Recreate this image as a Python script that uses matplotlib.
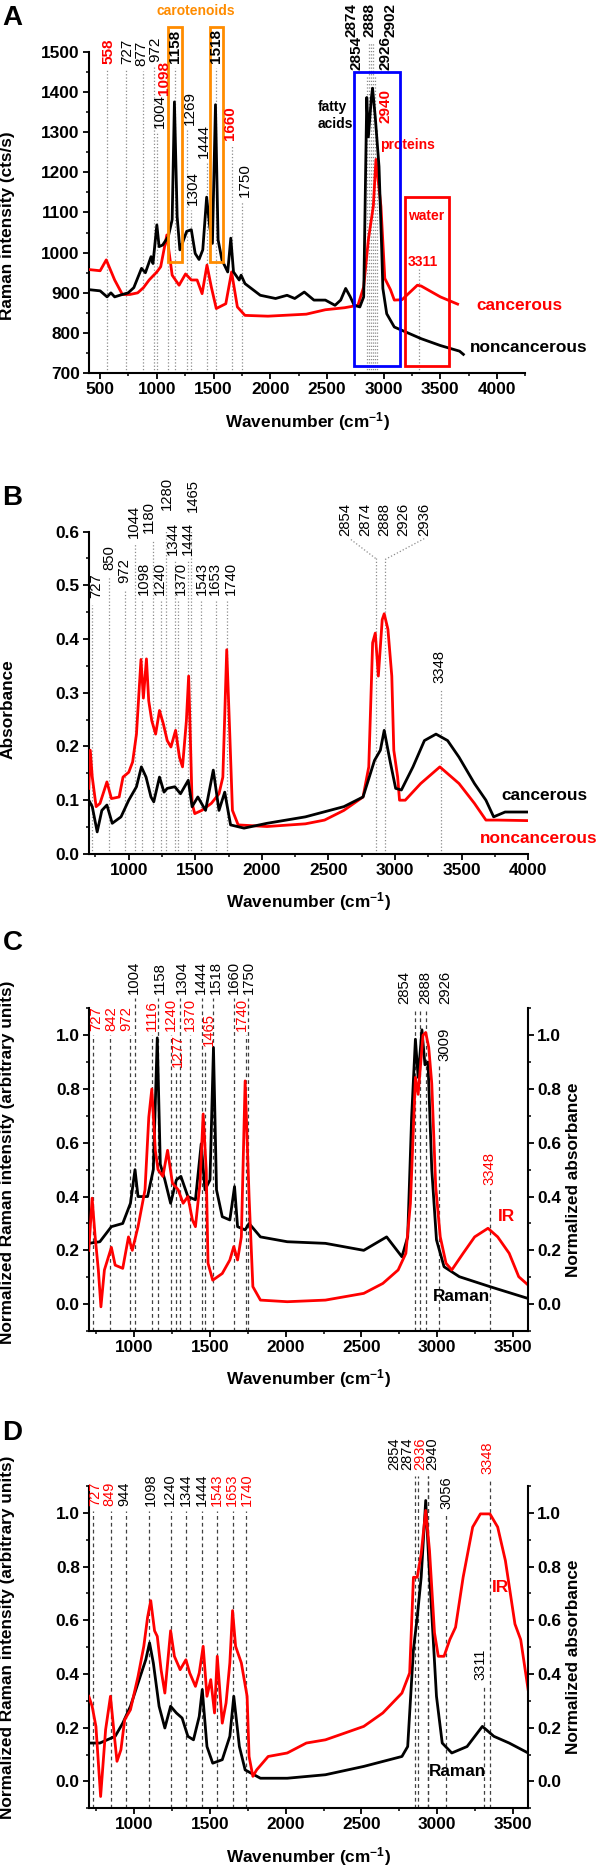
import matplotlib
matplotlib.use("Agg")
import matplotlib.pyplot as plt
from matplotlib.ticker import MultipleLocator
from matplotlib.patches import Rectangle

plt.rcParams['font.family'] = ['Liberation Sans', 'DejaVu Sans']
plt.rcParams['font.weight'] = 'bold'
plt.rcParams['axes.labelweight'] = 'bold'
plt.rcParams['mathtext.fontset'] = 'custom'
plt.rcParams['mathtext.rm'] = 'Liberation Sans'
plt.rcParams['mathtext.bf'] = 'Liberation Sans:bold'
plt.rcParams['mathtext.default'] = 'bf'

RED = '#ff0000'
ORANGE = '#ff8c00'
BLUE = '#0000ff'

# ---------------- panel A : Raman spectra (cts/s)
a_wn_canc = [400, 500, 554, 628, 696, 763, 831, 882, 932, 1000, 1034, 1088, 1135, 1196, 1253, 1304, 1355,
             1399, 1442, 1480, 1524, 1608, 1659, 1710, 1777, 1980, 2318, 2486, 2655, 2773, 2824, 2865,
             2909, 2932, 2976, 3010, 3060, 3094, 3162, 3297, 3331, 3500, 3652]
a_int_canc = [958, 955, 982, 932, 896, 896, 900, 913, 932, 952, 965, 1044, 944, 919, 947, 932, 932,
              898, 969, 915, 861, 873, 952, 865, 844, 842, 847, 858, 863, 869, 915, 1032,
              1116, 1232, 1115, 936, 908, 882, 883, 919, 917, 890, 872]
a_wn_non = [400, 500, 561, 595, 628, 696, 747, 797, 865, 899, 949, 966, 1000, 1020, 1051, 1101, 1135,
            1155, 1179, 1203, 1236, 1263, 1304, 1338, 1372, 1405, 1439, 1466, 1490, 1517, 1540, 1574,
            1625, 1652, 1676, 1726, 1743, 1777, 1912, 2047, 2148, 2216, 2300, 2385, 2486, 2571, 2621,
            2665, 2706, 2740, 2790, 2824, 2851, 2865, 2892, 2902, 2926, 2959, 2983, 2993, 3027, 3094,
            3331, 3500, 3669, 3703]
a_int_non = [908, 905, 890, 900, 890, 896, 900, 913, 961, 950, 990, 973, 1069, 1015, 1019, 1040, 1082,
             1375, 1090, 1007, 1032, 1053, 1057, 998, 983, 1007, 1138, 1065, 1023, 1368, 1032, 982,
             952, 1036, 952, 932, 944, 923, 894, 886, 894, 886, 902, 882, 882, 869, 882,
             911, 890, 869, 865, 890, 1386, 1288, 1386, 1409, 1337, 1214, 1007, 911, 848, 815,
             786, 769, 755, 747]
a_peaks = [558, 727, 877, 972, 1004, 1098, 1158, 1269, 1304, 1444, 1518, 1660, 1750,
           2854, 2874, 2888, 2902, 2926, 2940]
a_red = [558, 1098, 1660, 2940]
a_bold = [558, 1098, 1660, 2940, 1158, 1518, 2854, 2874, 2888, 2902, 2926]

# ---------------- panel B : FTIR absorbance
b_wn_non = [700, 711, 726, 755, 784, 836, 870, 928, 957, 1000, 1029, 1058, 1092, 1110, 1133, 1150, 1173,
            1202, 1231, 1260, 1289, 1317, 1352, 1381, 1404, 1433, 1450, 1462, 1476, 1496, 1548, 1620,
            1678, 1707, 1736, 1759, 1779, 1822, 2039, 2327, 2471, 2616, 2760, 2803, 2832, 2852, 2875,
            2904, 2919, 2947, 2976, 2991, 3020, 3034, 3077, 3193, 3337, 3481, 3597, 3683, 3770, 4000]
b_abs_non = [0.122, 0.193, 0.143, 0.088, 0.094, 0.134, 0.103, 0.106, 0.143, 0.152, 0.171, 0.223, 0.362,
             0.29, 0.363, 0.285, 0.248, 0.223, 0.267, 0.242, 0.211, 0.199, 0.23, 0.18, 0.162, 0.248,
             0.331, 0.223, 0.094, 0.075, 0.081, 0.094, 0.112, 0.143, 0.38, 0.223, 0.081, 0.054, 0.051,
             0.056, 0.063, 0.081, 0.106, 0.162, 0.393, 0.411, 0.331, 0.436, 0.447, 0.418, 0.331, 0.193,
             0.143, 0.1, 0.1, 0.131, 0.162, 0.131, 0.094, 0.063, 0.063, 0.062]
b_wn_canc = [700, 726, 763, 798, 836, 876, 942, 1000, 1058, 1095, 1130, 1167, 1188, 1231, 1265, 1289,
             1346, 1389, 1447, 1476, 1519, 1577, 1635, 1678, 1721, 1765, 1866, 2039, 2327, 2616, 2760,
             2846, 2890, 2919, 2962, 3005, 3048, 3135, 3221, 3308, 3395, 3481, 3597, 3683, 3741, 3827, 4000]
b_abs_canc = [0.1, 0.088, 0.041, 0.081, 0.091, 0.057, 0.069, 0.1, 0.125, 0.162, 0.143, 0.106, 0.097,
              0.143, 0.115, 0.122, 0.125, 0.112, 0.137, 0.088, 0.106, 0.081, 0.156, 0.081, 0.115, 0.054,
              0.048, 0.057, 0.069, 0.088, 0.106, 0.174, 0.193, 0.23, 0.174, 0.122, 0.119, 0.162, 0.211,
              0.223, 0.211, 0.18, 0.131, 0.1, 0.069, 0.078, 0.078]
b_peaks = [727, 850, 972, 1044, 1098, 1180, 1240, 1280, 1344, 1370, 1444, 1465, 1543, 1653, 1740,
           2854, 2874, 2888, 2926, 2936, 3348]

# ---------------- panel C : normalized, cancerous
c_wn_ir = [700, 722, 742, 763, 780, 803, 849, 874, 924, 962, 987, 1025, 1071, 1096, 1116, 1139, 1157,
           1189, 1220, 1252, 1290, 1323, 1354, 1384, 1404, 1434, 1455, 1475, 1487, 1518, 1581, 1631,
           1657, 1682, 1707, 1732, 1758, 1783, 1833, 2010, 2262, 2515, 2641, 2742, 2793, 2823, 2856,
           2874, 2906, 2924, 2944, 2964, 2990, 3020, 3058, 3096, 3171, 3247, 3335, 3399, 3475, 3538, 3600]
c_ir = [0.2, 0.394, 0.25, 0.127, -0.01, 0.127, 0.211, 0.145, 0.133, 0.25, 0.2, 0.288, 0.425, 0.695, 0.8,
        0.572, 0.5, 0.475, 0.572, 0.45, 0.425, 0.375, 0.4, 0.313, 0.288, 0.45, 0.707, 0.5, 0.152, 0.089,
        0.114, 0.164, 0.214, 0.164, 0.25, 0.83, 0.4, 0.065, 0.015, 0.009, 0.015, 0.04, 0.077, 0.127,
        0.189, 0.375, 0.843, 0.78, 1.0, 1.01, 0.954, 0.82, 0.437, 0.25, 0.152, 0.127, 0.189, 0.25,
        0.282, 0.25, 0.189, 0.102, 0.071]
c_wn_ram = [700, 773, 849, 924, 975, 1005, 1025, 1088, 1126, 1152, 1172, 1202, 1240, 1278, 1308, 1354,
            1404, 1442, 1467, 1500, 1523, 1543, 1581, 1631, 1662, 1682, 1732, 1758, 1833, 2010, 2262,
            2515, 2666, 2767, 2805, 2831, 2856, 2874, 2899, 2919, 2939, 2964, 2995, 3045, 3146, 3348, 3600]
c_ram = [0.226, 0.232, 0.288, 0.3, 0.375, 0.5, 0.4, 0.4, 0.5, 0.99, 0.52, 0.462, 0.375, 0.462, 0.475,
         0.4, 0.388, 0.596, 0.425, 0.462, 0.954, 0.425, 0.325, 0.313, 0.437, 0.288, 0.276, 0.3, 0.25,
         0.232, 0.226, 0.2, 0.25, 0.176, 0.25, 0.695, 0.985, 0.843, 1.02, 0.89, 0.9, 0.5, 0.239, 0.139,
         0.102, 0.065, 0.021]
c_peaks = [727, 842, 972, 1004, 1116, 1158, 1240, 1277, 1304, 1370, 1444, 1465, 1518, 1660, 1740, 1750,
           2854, 2888, 2926, 3009, 3348]
c_red = [727, 842, 972, 1116, 1240, 1277, 1370, 1465, 1740, 3348]

# ---------------- panel D : normalized, noncancerous
d_wn_ir = [700, 722, 747, 778, 811, 843, 869, 886, 912, 937, 975, 1025, 1063, 1088, 1109, 1134, 1152,
           1177, 1202, 1240, 1265, 1303, 1341, 1366, 1404, 1429, 1455, 1480, 1505, 1530, 1548, 1581,
           1606, 1631, 1649, 1669, 1707, 1745, 1758, 1783, 1808, 1884, 2010, 2136, 2262, 2389, 2515,
           2641, 2767, 2818, 2843, 2868, 2894, 2924, 2949, 2982, 3007, 3045, 3083, 3121, 3171, 3234,
           3285, 3348, 3399, 3450, 3513, 3551, 3600]
d_ir = [0.317, 0.28, 0.205, -0.056, 0.193, 0.317, 0.168, 0.075, 0.118, 0.23, 0.267, 0.391, 0.503, 0.611,
        0.673, 0.561, 0.54, 0.416, 0.329, 0.561, 0.466, 0.416, 0.453, 0.404, 0.354, 0.404, 0.503, 0.317,
        0.379, 0.255, 0.466, 0.217, 0.292, 0.441, 0.636, 0.503, 0.441, 0.317, 0.093, 0.019, 0.043, 0.093,
        0.106, 0.143, 0.155, 0.18, 0.205, 0.255, 0.329, 0.404, 0.76, 0.76, 0.847, 1.009, 0.86, 0.553,
        0.466, 0.466, 0.528, 0.574, 0.76, 0.947, 0.996, 0.996, 0.947, 0.822, 0.586, 0.528, 0.342]
d_wn_ram = [700, 773, 874, 924, 975, 1025, 1076, 1101, 1126, 1164, 1202, 1240, 1278, 1316, 1354, 1391,
            1429, 1449, 1480, 1518, 1581, 1631, 1657, 1694, 1732, 1833, 2010, 2262, 2515, 2767, 2805,
            2843, 2868, 2894, 2924, 2944, 2970, 2995, 3033, 3096, 3197, 3298, 3374, 3475, 3600]
d_ram = [0.143, 0.143, 0.168, 0.217, 0.28, 0.366, 0.453, 0.516, 0.441, 0.28, 0.199, 0.28, 0.255, 0.236,
         0.168, 0.155, 0.242, 0.342, 0.13, 0.068, 0.081, 0.168, 0.317, 0.13, 0.043, 0.012, 0.012, 0.025,
         0.056, 0.093, 0.13, 0.491, 0.611, 0.76, 1.046, 0.822, 0.565, 0.317, 0.143, 0.106, 0.13, 0.205,
         0.168, 0.143, 0.106]
d_peaks = [727, 849, 944, 1098, 1240, 1344, 1444, 1543, 1653, 1740, 2854, 2874, 2936, 2940, 3056, 3348, 3311]
d_red = [727, 849, 1543, 1653, 1740, 2936, 3348]

# ---------------- label placement (layout only)
a_lab_x = [577, 741, 868, 984, 1024, 1063, 1163, 1288, 1314, 1414, 1524, 1649, 1775,
           2762, 2718, 2876, 3061, 3013, 3013]
a_lab_y = [1469, 1469, 1464, 1474, 1310, 1392, 1471, 1318, 1119, 1236, 1471, 1280, 1138,
           1454, 1536, 1536, 1536, 1454, 1322]
b_lab_x = [758, 856, 965, 1035, 1115, 1150, 1231, 1289, 1332, 1389, 1447, 1482, 1548, 1649, 1765,
           2630, 2774, 2919, 3063, 3221, 3337]
b_lab_y = [0.476, 0.529, 0.504, 0.588, 0.482, 0.597, 0.482, 0.64, 0.557, 0.482, 0.557, 0.637, 0.482,
           0.482, 0.482, 0.591, 0.591, 0.591, 0.591, 0.591, 0.319]
c_lab_x = [748, 849, 950, 1000, 1114, 1172, 1240, 1290, 1316, 1366, 1442, 1492, 1538, 1657, 1712, 1758,
           2785, 2924, 3050, 3050, 3348]
c_lab_y = [1.016, 1.016, 1.016, 1.152, 1.016, 1.152, 1.016, 0.88, 1.152, 1.016, 1.152, 0.96, 1.152,
           1.152, 1.016, 1.152, 1.115, 1.115, 1.115, 0.905, 0.443]
d_lab_x = [742, 836, 937, 1109, 1235, 1341, 1449, 1545, 1644, 1745, 2718, 2800, 2886, 2968, 3060, 3330, 3285]
d_lab_y = [1.025] * 10 + [1.158] * 4 + [1.015, 1.145, 0.379]

XLABEL = 'Wavenumber (cm$^{-1}$)'
FS = 12.4
LW = 2.0


def style(ax, xlim, ylim, xmaj, ymaj):
    ax.set_xlim(*xlim)
    ax.set_ylim(*ylim)
    ax.xaxis.set_major_locator(MultipleLocator(xmaj))
    ax.xaxis.set_minor_locator(MultipleLocator(xmaj / 2))
    ax.yaxis.set_major_locator(MultipleLocator(ymaj))
    ax.yaxis.set_minor_locator(MultipleLocator(ymaj / 2))
    ax.spines['top'].set_visible(False)
    ax.spines['right'].set_visible(False)
    ax.spines['left'].set_linewidth(1.5)
    ax.spines['bottom'].set_linewidth(1.5)
    ax.tick_params(which='major', direction='out', length=4.5, width=1.3, labelsize=FS, pad=2)
    ax.tick_params(which='minor', direction='out', length=2.5, width=1.1)
    ax.set_xlabel(XLABEL, fontsize=FS, labelpad=9)
    ax.patch.set_alpha(0)


def put_labels(ax, peaks, lab_x, lab_y, reds, size, bolds=()):
    for p, x, y in zip(peaks, lab_x, lab_y):
        ax.text(x, y, str(p), rotation=90, ha='center', va='bottom', fontsize=size,
                color=RED if p in reds else 'black',
                fontweight='bold' if p in bolds else 'normal', zorder=6)


def right_axis(ax, ylim, frac_y):
    ax2 = ax.twinx()
    ax2.set_ylim(*ylim)
    ax2.yaxis.set_major_locator(MultipleLocator(0.2))
    ax2.yaxis.set_minor_locator(MultipleLocator(0.1))
    ax2.spines['top'].set_visible(False)
    ax2.spines['left'].set_visible(False)
    ax2.spines['bottom'].set_visible(False)
    ax2.spines['right'].set_linewidth(1.5)
    ax2.tick_params(which='major', direction='out', length=4.5, width=1.3, labelsize=FS, pad=2)
    ax2.tick_params(which='minor', direction='out', length=2.5, width=1.1)
    ax2.set_ylabel('Normalized absorbance', fontsize=FS)
    ax2.yaxis.set_label_coords(1.086, frac_y)
    return ax2


fig = plt.figure(figsize=(6, 18.71), dpi=100)

# ======================= A
ax = fig.add_axes([0.148, 0.8005, 0.7277, 0.1719])
style(ax, (400, 4250), (700, 1500), 500, 100)
ax.set_ylabel('Raman intensity (cts/s)', fontsize=FS)
ax.yaxis.set_label_coords(-0.169, 0.46)
ax.vlines(a_peaks, 700, [y - 12 for y in a_lab_y], colors='#8c8c8c', linestyles=':', lw=0.9,
          clip_on=False, zorder=1)
ax.vlines([3311], 700, 962, colors='#8c8c8c', linestyles=':', lw=0.9, zorder=1)
ax.plot(a_wn_canc, a_int_canc, color=RED, lw=LW, zorder=3)
ax.plot(a_wn_non, a_int_non, color='black', lw=LW, zorder=4)
put_labels(ax, a_peaks, a_lab_x, a_lab_y, a_red, 11, a_bold)
for x0, x1, y0, y1, c in [(1101, 1223, 977, 1561, ORANGE), (1466, 1581, 977, 1561, ORANGE),
                          (2736, 3148, 719, 1449, BLUE), (3189, 3574, 719, 1139, RED)]:
    ax.add_patch(Rectangle((x0, y0), x1 - x0, y1 - y0, fill=False, ec=c, lw=2, clip_on=False, zorder=5))
ax.text(1343, 1600, 'carotenoids', color=ORANGE, fontsize=10, ha='center', va='center')
ax.text(2422, 1342, 'fatty\nacids', color='black', fontsize=10, ha='left', va='center', linespacing=1.25)
ax.text(2972, 1267, 'proteins', color=RED, fontsize=10, ha='left', va='center')
ax.text(3378, 1091, 'water', color=RED, fontsize=10, ha='center', va='center')
ax.text(3342, 977, '3311', color=RED, fontsize=10, ha='center', va='center')
ax.text(3815, 869, 'cancerous', color=RED, fontsize=FS, ha='left', va='center')
ax.text(3764, 765, 'noncancerous', color='black', fontsize=FS, ha='left', va='center')

# ======================= B
ax = fig.add_axes([0.148, 0.5436, 0.7322, 0.1723])
style(ax, (700, 4000), (0, 0.6), 500, 0.1)
ax.set_ylabel('Absorbance', fontsize=FS)
ax.yaxis.set_label_coords(-0.167, 0.45)
for p, y in zip(b_peaks, b_lab_y):
    if p in (2874, 2888, 2936):
        continue
    top = {2854: 0.55, 2926: 0.548}.get(p, y - 0.012)
    ax.vlines(p, 0, top, colors='#8c8c8c', linestyles=':', lw=0.9, zorder=1)
ax.plot([2854, 2659], [0.55, 0.587], color='#8c8c8c', ls=':', lw=0.9)
ax.plot([2926, 3221], [0.548, 0.587], color='#8c8c8c', ls=':', lw=0.9)
ax.plot(b_wn_non, b_abs_non, color=RED, lw=LW, zorder=3)
ax.plot(b_wn_canc, b_abs_canc, color='black', lw=LW, zorder=4)
put_labels(ax, b_peaks, b_lab_x, b_lab_y, [], 10.7)
ax.text(3798, 0.109, 'cancerous', color='black', fontsize=FS, ha='left', va='center')
ax.text(3640, 0.029, 'noncancerous', color=RED, fontsize=FS, ha='left', va='center')

# ======================= C
ax = fig.add_axes([0.148, 0.2886, 0.7322, 0.1725])
style(ax, (700, 3600), (-0.1, 1.1), 500, 0.2)
ax.set_ylabel('Normalized Raman intensity (arbitrary units)', fontsize=FS)
ax.yaxis.set_label_coords(-0.167, 0.524)
ax.vlines(c_peaks, -0.1, [y - 0.015 for y in c_lab_y], colors='#404040', linestyles=(0, (3, 2.5)),
          lw=0.9, clip_on=False, zorder=1)
ax.plot(c_wn_ram, c_ram, color='black', lw=LW, zorder=3)
ax.plot(c_wn_ir, c_ir, color=RED, lw=LW, zorder=4)
put_labels(ax, c_peaks, c_lab_x, c_lab_y, c_red, 10.7)
ax.text(3399, 0.325, 'IR', color=RED, fontsize=FS, ha='left', va='center')
ax.text(2970, 0.027, 'Raman', color='black', fontsize=FS, ha='left', va='center')
right_axis(ax, (-0.1, 1.1), 0.468)

# ======================= D
ax = fig.add_axes([0.148, 0.0335, 0.7322, 0.1723])
style(ax, (700, 3600), (-0.1, 1.1), 500, 0.2)
ax.set_ylabel('Normalized Raman intensity (arbitrary units)', fontsize=FS)
ax.yaxis.set_label_coords(-0.167, 0.53)
ax.vlines(d_peaks, -0.1, [y - 0.02 for y in d_lab_y], colors='#404040', linestyles=(0, (3, 2.5)),
          lw=0.9, clip_on=False, zorder=1)
ax.plot(d_wn_ram, d_ram, color='black', lw=LW, zorder=3)
ax.plot(d_wn_ir, d_ir, color=RED, lw=LW, zorder=4)
put_labels(ax, d_peaks, d_lab_x, d_lab_y, d_red, 10.5)
ax.text(3361, 0.723, 'IR', color=RED, fontsize=FS, ha='left', va='center')
ax.text(2944, 0.037, 'Raman', color='black', fontsize=FS, ha='left', va='center')
right_axis(ax, (-0.1, 1.1), 0.47)

for letter, ypix in [('A', 5), ('B', 485), ('C', 930), ('D', 1420)]:
    fig.text(0.004, 1 - ypix / 1871, letter, fontsize=20, fontweight='bold', va='top', ha='left')

fig.savefig('out.png', dpi=100)
